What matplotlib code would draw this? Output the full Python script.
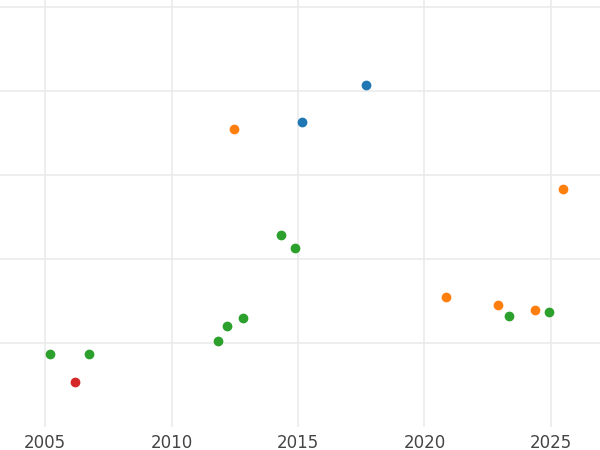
import matplotlib
matplotlib.use('Agg')
import matplotlib.pyplot as plt

# datos
azul_x = [2015.16, 2017.69]
azul_y = [3.63, 4.07]
naranja_x = [2012.47, 2025.47, 2020.85, 2022.9, 2024.37]
naranja_y = [3.54, 2.83, 1.55, 1.45, 1.39]
verde_x = [2005.2, 2006.74, 2011.84, 2012.19, 2012.83, 2014.33, 2014.88, 2023.34, 2024.92]
verde_y = [0.87, 0.87, 1.02, 1.20, 1.30, 2.28, 2.13, 1.32, 1.37]
rojo_x = [2006.19]
rojo_y = [0.54]

fig = plt.figure(figsize=(6, 4.5), dpi=100)
ax = fig.add_axes([0, 23 / 450, 1, 427 / 450])

ax.scatter(azul_x, azul_y, s=36, color='#1f77b4', zorder=3)
ax.scatter(naranja_x, naranja_y, s=36, color='#ff7f0e', zorder=3)
ax.scatter(verde_x, verde_y, s=36, color='#2ca02c', zorder=3)
ax.scatter(rojo_x, rojo_y, s=36, color='#d62728', zorder=3)

ax.set_xlim(2003.22, 2026.94)
ax.set_ylim(0, 5.08)
ax.set_xticks([2005, 2010, 2015, 2020, 2025])
ax.set_yticks([1, 2, 3, 4, 5])
ax.set_yticklabels([])
ax.grid(True, color='#ebebeb', linewidth=1.2)
ax.set_axisbelow(True)
ax.tick_params(length=0, labelsize=12, labelcolor='#444444', pad=5)
for s in ax.spines.values():
    s.set_visible(False)

fig.savefig('out.png', dpi=100)
